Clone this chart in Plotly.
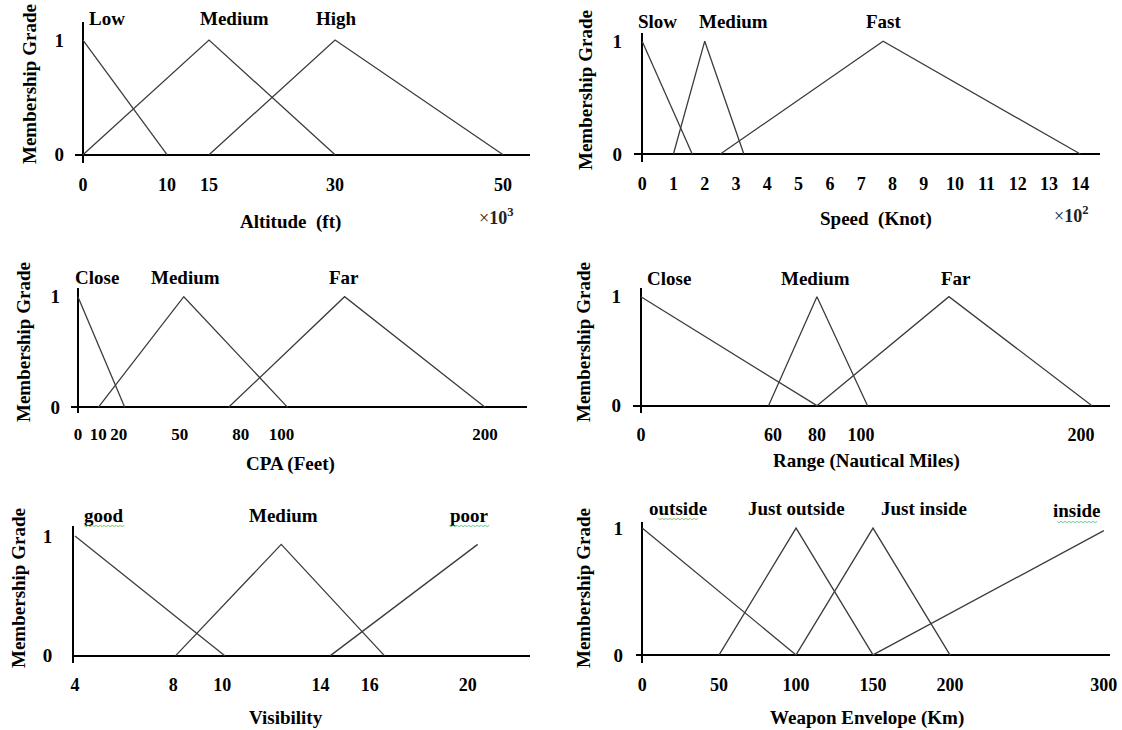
import plotly.graph_objects as go

W, H = 1122, 730

# ---------------- data ----------------
altitude_terms = ["Low", "Medium", "High"]
altitude_x = [[0, 10], [0, 15, 30], [15, 30, 50]]
altitude_mu = [[1, 0], [0, 1, 0], [0, 1, 0]]
altitude_ticks = [0, 10, 15, 30, 50]

speed_terms = ["Slow", "Medium", "Fast"]
speed_x = [[0, 1.6], [1, 2, 3.25], [2.5, 7.7, 14]]
speed_mu = [[1, 0], [0, 1, 0], [0, 1, 0]]
speed_ticks = [0, 1, 2, 3, 4, 5, 6, 7, 8, 9, 10, 11, 12, 13, 14]

cpa_terms = ["Close", "Medium", "Far"]
cpa_x = [[0, 23], [10, 52, 103], [74, 131, 200]]
cpa_mu = [[1, 0], [0, 1, 0], [0, 1, 0]]
cpa_ticks = [0, 10, 20, 50, 80, 100, 200]

range_terms = ["Close", "Medium", "Far"]
range_x = [[0, 80], [58, 80, 103], [80, 140, 205]]
range_mu = [[1, 0], [0, 1, 0], [0, 1, 0]]
range_ticks = [0, 60, 80, 100, 200]

visibility_terms = ["good", "Medium", "poor"]
visibility_x = [[4, 10.1], [8.1, 12.4, 16.6], [14.4, 20.4]]
visibility_mu = [[1, 0], [0, 0.93, 0], [0, 0.93]]
visibility_ticks = [4, 8, 10, 14, 16, 20]

weapon_terms = ["outside", "Just outside", "Just inside", "inside"]
weapon_x = [[0, 100], [50, 100, 150], [100, 150, 200], [150, 300]]
weapon_mu = [[1, 0], [0, 1, 0], [0, 1, 0], [0, 0.98]]
weapon_ticks = [0, 50, 100, 150, 200, 300]

# ---------------- layout of the six panels (pixels) ----------------
FONT = "Liberation Serif"
LINE = "#3c3c3c"

panels = [
    dict(terms=altitude_terms, xs=altitude_x, mus=altitude_mu, ticks=altitude_ticks,
         xdom=(75, 530), xr=(-0.95, 53.2), ydom=(21.7, 162.7), yr=(-0.07, 1.16),
         label_pos=[(107, 19), (234, 19), (336, 19)], squiggle=[],
         xtitle="Altitude  (ft)", xtitle_pos=(290, 222), ytitle_pos=(30, 84),
         mult="×<b>10<sup>3</sup></b>", mult_pos=(496, 216), ystand=10, zero=True,
         tsize=18),
    dict(terms=speed_terms, xs=speed_x, mus=speed_mu, ticks=speed_ticks,
         xdom=(634, 1100), xr=(-0.26, 14.63), ydom=(33.3, 161.7), yr=(-0.068, 1.07),
         label_pos=[(657, 22), (733, 22), (884, 22)], squiggle=[],
         xtitle="Speed  (Knot)", xtitle_pos=(876, 219), ytitle_pos=(585, 90),
         mult="×<b>10<sup>2</sup></b>", mult_pos=(1071, 214), ystand=11, zero=True,
         tsize=18),
    dict(terms=cpa_terms, xs=cpa_x, mus=cpa_mu, ticks=cpa_ticks,
         xdom=(71, 527), xr=(-3.4, 220.6), ydom=(288.3, 413.3), yr=(-0.054, 1.076),
         label_pos=[(97, 277), (185, 277), (344, 277)], squiggle=[],
         xtitle="CPA (Feet)", xtitle_pos=(290, 464), ytitle_pos=(23, 342),
         mult=None, mult_pos=None, ystand=10, zero=True, tsize=17),
    dict(terms=range_terms, xs=range_x, mus=range_mu, ticks=range_ticks,
         xdom=(633, 1110), xr=(-3.6, 213.2), ydom=(288.3, 413.3), yr=(-0.07, 1.077),
         label_pos=[(669, 278), (815, 278), (956, 278)], squiggle=[],
         xtitle="Range (Nautical Miles)", xtitle_pos=(866, 461), ytitle_pos=(583, 342),
         mult=None, mult_pos=None, ystand=11, zero=True, tsize=18),
    dict(terms=visibility_terms, xs=visibility_x, mus=visibility_mu, ticks=visibility_ticks,
         xdom=(74, 530), xr=(3.96, 22.53), ydom=(525.7, 663.3), yr=(-0.064, 1.086),
         label_pos=[(104, 515), (283, 515), (469, 515)], squiggle=[(104, 525), (469, 525)],
         xtitle="Visibility", xtitle_pos=(286, 717), ytitle_pos=(18, 588),
         mult=None, mult_pos=None, ystand=16, zero=False, tsize=18),
    dict(terms=weapon_terms, xs=weapon_x, mus=weapon_mu, ticks=weapon_ticks,
         xdom=(636, 1110), xr=(-4, 304), ydom=(521.7, 663.3), yr=(-0.066, 1.05),
         label_pos=[(678, 508), (796, 508), (924, 508), (1077, 511)],
         squiggle=[(678, 518), (1077, 521)],
         xtitle="Weapon Envelope (Km)", xtitle_pos=(867, 718), ytitle_pos=(583, 588),
         mult=None, mult_pos=None, ystand=12, zero=True, tsize=18),
]

fig = go.Figure()
annotations = []


def ann(text, px, py, size=19, weight="bold", angle=0, color="black", family=FONT):
    annotations.append(dict(
        text=text, x=px / W, y=1 - py / H, xref="paper", yref="paper",
        xanchor="center", yanchor="middle", showarrow=False, textangle=angle,
        font=dict(family=family, size=size, color=color, weight=weight)))


for i, p in enumerate(panels):
    n = "" if i == 0 else str(i + 1)
    xa, ya = "x" + n, "y" + n
    for term, xs, mus in zip(p["terms"], p["xs"], p["mus"]):
        fig.add_trace(go.Scatter(x=xs, y=mus, mode="lines", name=term, xaxis=xa, yaxis=ya,
                                 line=dict(color=LINE, width=1.3), showlegend=False,
                                 hoverinfo="skip"))
    xtickfont = dict(family=FONT, size=p["tsize"], color="black", weight="bold")
    ytickfont = dict(family=FONT, size=19, color="black", weight="bold")
    fig.layout["xaxis" + n] = dict(
        domain=[p["xdom"][0] / W, p["xdom"][1] / W], range=list(p["xr"]), anchor=ya,
        showgrid=False, zeroline=p["zero"], zerolinecolor="black", zerolinewidth=2,
        showline=False, tickmode="array", tickvals=p["ticks"],
        ticktext=[str(t) for t in p["ticks"]], ticks="", tickfont=xtickfont,
        tickangle=0, ticklabelstandoff=9, automargin=False, fixedrange=True)
    fig.layout["yaxis" + n] = dict(
        domain=[1 - p["ydom"][1] / H, 1 - p["ydom"][0] / H], range=list(p["yr"]), anchor=xa,
        showgrid=False, zeroline=True, zerolinecolor="black", zerolinewidth=2,
        showline=not p["zero"], linecolor="black", linewidth=2,
        tickmode="array", tickvals=[0, 1], ticktext=["0", "1"], ticks="",
        tickfont=ytickfont, ticklabelstandoff=p["ystand"], automargin=False,
        fixedrange=True)
    for term, (lx, ly) in zip(p["terms"], p["label_pos"]):
        ann(term, lx, ly)
    for sx, sy in p["squiggle"]:
        ann("〰〰〰〰〰", sx, sy, size=8, weight="normal", color="#4caf50",
            family="Noto Sans CJK SC")
    ann(p["xtitle"], *p["xtitle_pos"])
    ann("Membership Grade", *p["ytitle_pos"], angle=-90)
    if p["mult"]:
        ann(p["mult"], *p["mult_pos"], size=18, weight="normal", color="#222222")

fig.update_layout(
    width=W, height=H, margin=dict(l=0, r=0, t=0, b=0),
    paper_bgcolor="white", plot_bgcolor="white",
    annotations=annotations, showlegend=False,
)

fig.write_html(
    "out.html",
    config={"displayModeBar": False, "staticPlot": True},
    post_script="document.body.style.margin='0';document.body.style.overflow='hidden';",
)
